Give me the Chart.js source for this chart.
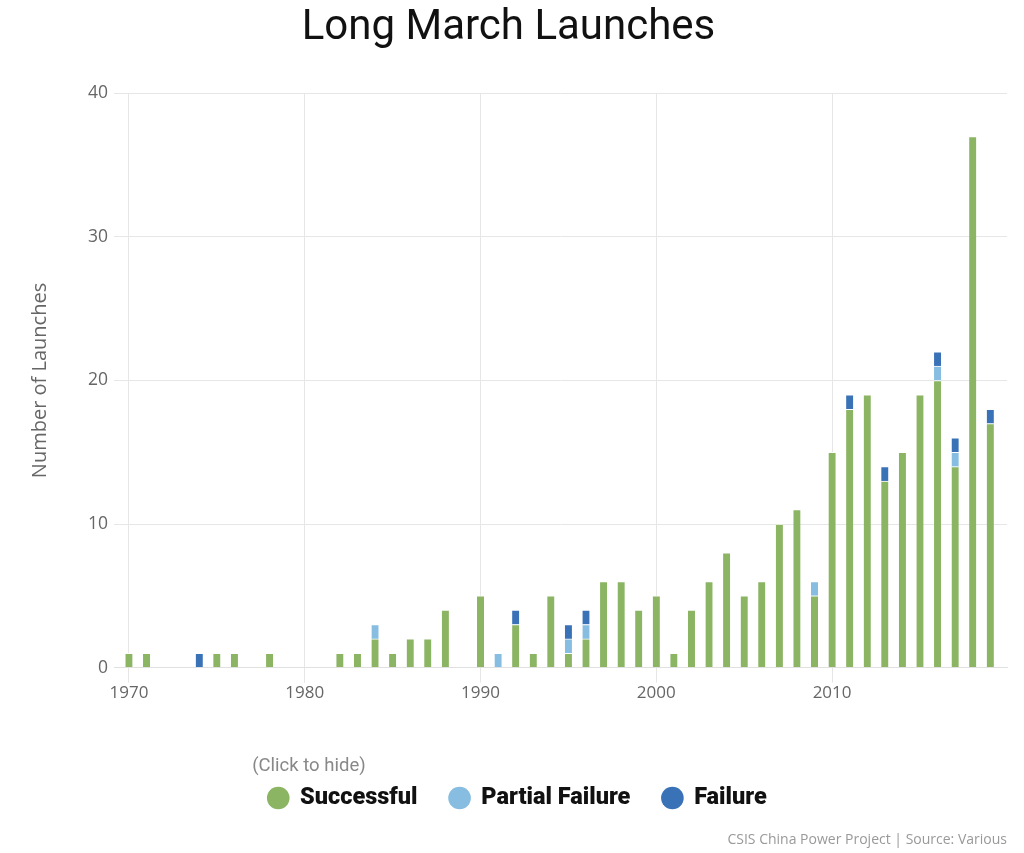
<!DOCTYPE html>
<html>
<head>
<meta charset="utf-8">
<title>Long March Launches</title>
<script src="https://cdn.jsdelivr.net/npm/chart.js@4.4.1/dist/chart.umd.min.js"></script>
<style>
body{margin:0;background:#fff}
#wrap{width:1024px;height:853px;position:relative}
</style>
</head>
<body>
<div id="wrap"><canvas id="launchChart"></canvas></div>
<script>
// launches per year
const years=[
1970,1971,1972,1973,1974,1975,1976,1977,1978,1979,
1980,1981,1982,1983,1984,1985,1986,1987,1988,1989,
1990,1991,1992,1993,1994,1995,1996,1997,1998,1999,
2000,2001,2002,2003,2004,2005,2006,2007,2008,2009,
2010,2011,2012,2013,2014,2015,2016,2017,2018,2019]

const successful=[
1,1,0,0,0,1,1,0,1,0,
0,0,1,1,2,1,2,2,4,0,
5,0,3,1,5,1,2,6,6,4,
5,1,4,6,8,5,6,10,11,5,
15,18,19,13,15,19,20,14,37,17]

const partialFailure=[
0,0,0,0,0,0,0,0,0,0,
0,0,0,0,1,0,0,0,0,0,
0,1,0,0,0,1,1,0,0,0,
0,0,0,0,0,0,0,0,0,1,
0,0,0,0,0,0,1,1,0,0]

const failure=[
0,0,0,0,1,0,0,0,0,0,
0,0,0,0,0,0,0,0,0,0,
0,0,1,0,0,1,1,0,0,0,
0,0,0,0,0,0,0,0,0,0,
0,1,0,1,0,0,1,1,0,1]

const yTicks=[0,10,20,30,40]
const xTicks=[1970,1980,1990,2000,2010]


/* DATASETS */

function series(label,values,color){
return {
label:label,
data:values.map(v=>v||null),
backgroundColor:color,
borderColor:"#ffffff",
borderWidth:{top:1,right:0,bottom:0,left:0},
borderSkipped:false,
barThickness:7
}
}


/* legend sits a little right of the canvas centre in the original */

const shiftLegend={
id:"shiftLegend",
afterUpdate(chart){
chart.legend.left+=9
chart.legend.right+=9
}
}


const ctx=document.getElementById("launchChart").getContext("2d")

new Chart(ctx,{

type:"bar",

data:{
labels:years,
datasets:[
series("Successful",successful,"#8bb463"),
series("Partial Failure",partialFailure,"#86bde0"),
series("Failure",failure,"#3a72b7")
]
},

plugins:[shiftLegend],

options:{
responsive:true,
maintainAspectRatio:false,
animation:false,

layout:{
padding:{left:10,right:17,top:0,bottom:0}
},

plugins:{

title:{
display:true,
text:"Long March Launches",
color:"#111",
font:{family:"Roboto",size:42,weight:"normal"},
padding:{top:3,bottom:40}
},

subtitle:{
display:true,
position:"bottom",
align:"end",
text:"CSIS China Power Project | Source: Various",
color:"#999",
font:{family:"Open Sans",size:14},
padding:{top:11.5,bottom:5}
},

legend:{
position:"bottom",
title:{
display:true,
text:"(Click to hide)",
position:"start",
color:"#888",
font:{family:"Roboto",size:18.5},
padding:{top:54,bottom:-25}
},
labels:{
usePointStyle:true,
pointStyle:"circle",
boxWidth:20,
boxHeight:16,
padding:32,
color:"#111",
font:{family:"Roboto",size:23.5,weight:"900"},
generateLabels:chart=>
Chart.defaults.plugins.legend.labels.generateLabels(chart).map(l=>({...l,lineWidth:0}))
}
},

tooltip:{enabled:false}

},

scales:{

x:{
type:"linear",
stacked:true,
offset:false,
min:1969.15,
max:2019.95,
afterBuildTicks:scale=>{
scale.ticks=xTicks.map(v=>({value:v}))
},
ticks:{
color:"#666",
font:{family:"Open Sans",size:17},
padding:0,
maxRotation:0,
callback:v=>String(v)
},
grid:{
offset:false,
color:"#e6e6e6",
tickLength:15
},
border:{color:"#e0e0e0"}
},

y:{
stacked:true,
min:0,
max:40,
afterBuildTicks:scale=>{
scale.ticks=yTicks.map(v=>({value:v}))
},
ticks:{
color:"#666",
font:{family:"Open Sans",size:17.5},
padding:6
},
grid:{
color:"#e6e6e6",
drawTicks:false
},
border:{display:false},
title:{
display:true,
text:"Number of Launches",
color:"#666",
font:{family:"Open Sans",size:20},
padding:{top:18,bottom:30}
}
}

}

}

})
</script>
</body>
</html>
